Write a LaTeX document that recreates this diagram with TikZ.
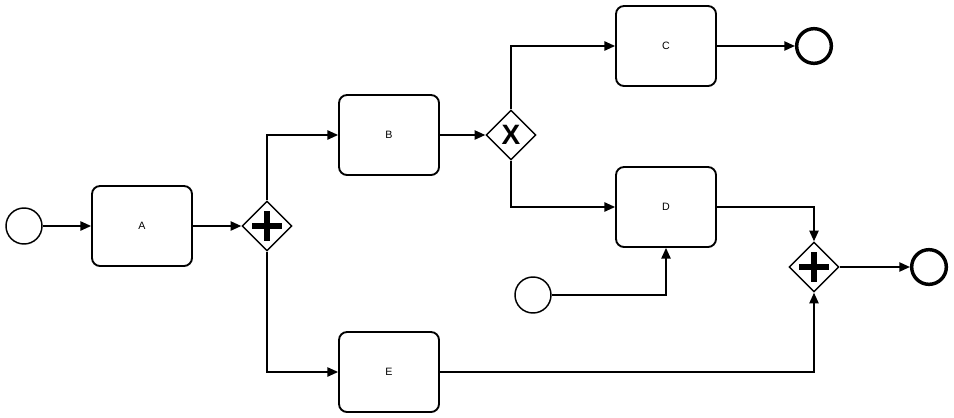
\documentclass[tikz,border=0pt]{standalone}
\usepackage{fontspec}
\setmainfont{Liberation Sans}
\usetikzlibrary{arrows.meta,shapes.geometric,calc}

\begin{document}
\begin{tikzpicture}[x=0.75pt,y=-0.75pt,
  task/.style={draw,line width=1.4pt,rounded corners=6pt,minimum width=75pt,minimum height=60pt,font=\fontsize{8}{9}\selectfont},
  startev/.style={draw,circle,line width=1.1pt,minimum size=27pt,inner sep=0pt},
  endev/.style={draw,circle,line width=2.6pt,minimum size=26pt,inner sep=0pt},
  gate/.style={draw,diamond,line width=1.1pt,minimum width=37.5pt,minimum height=37.5pt,inner sep=0pt},
  flow/.style={line width=1.1pt,-{Triangle[length=8pt,width=7pt]}},
  bar/.style={line width=5pt}]
  \useasboundingbox (0,0) rectangle (954,418);
  % events
  \node[startev] (s1) at (24,226) {};
  \node[startev] (s2) at (533,295) {};
  \node[endev] (e1) at (814,46) {};
  \node[endev] (e2) at (929,267) {};
  % tasks
  \node[task] (A) at (142,226) {A};
  \node[task] (B) at (389,135) {B};
  \node[task] (C) at (666,46) {C};
  \node[task] (D) at (666,207) {D};
  \node[task] (E) at (389,372) {E};
  % gateways
  \node[gate] (g1) at (267,226) {};
  \node[gate] (g2) at (814,267) {};
  \node[gate,font=\fontsize{21}{21}\selectfont\bfseries] (gx) at (511,135) {X};
  \foreach \g in {g1,g2} {
    \draw[bar] ($(\g)+(-15,0)$) -- ($(\g)+(15,0)$);
    \draw[bar] ($(\g)+(0,-15)$) -- ($(\g)+(0,15)$);
  }
  % sequence flows
  \draw[flow] (s1) -- (A);
  \draw[flow] (A) -- (g1);
  \draw[flow] (g1.north) |- (B.west);
  \draw[flow] (g1.south) |- (E.west);
  \draw[flow] (B) -- (gx);
  \draw[flow] (gx.north) |- (C.west);
  \draw[flow] (gx.south) |- (D.west);
  \draw[flow] (C) -- (e1);
  \draw[flow] (s2) -| (D.south);
  \draw[flow] (D.east) -| (g2.north);
  \draw[flow] (E.east) -| (g2.south);
  \draw[flow] (g2) -- (e2);
\end{tikzpicture}
\end{document}
